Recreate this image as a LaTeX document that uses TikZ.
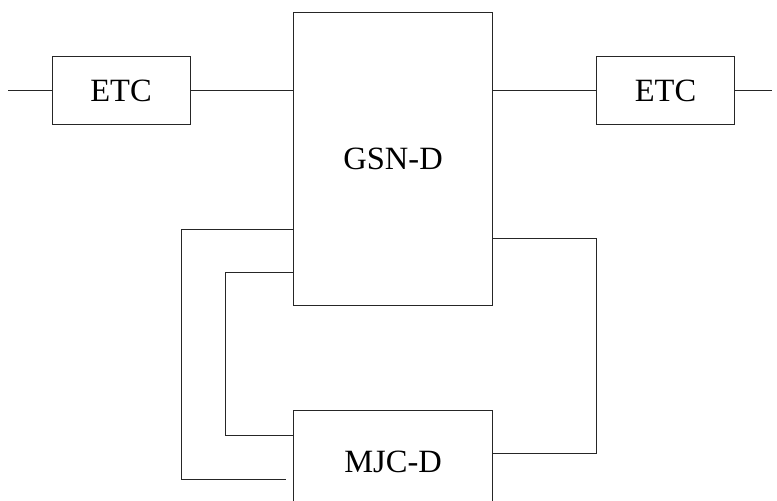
\documentclass[tikz,border=0pt]{standalone}
\usepackage{fontspec}
\setmainfont{Liberation Serif}
\begin{document}
\begin{tikzpicture}[x=1pt,y=-1pt,
  box/.style={draw=black!85, line width=1pt, inner sep=0pt, font=\fontsize{32.5}{38}\selectfont},
  wire/.style={draw=black!85, line width=1pt}]
\useasboundingbox (0,0) rectangle (777,501);
\clip (0,0) rectangle (777,501);
\node[box, minimum width=138pt, minimum height=68.5pt] (ETC1) at (121,90.5) {ETC};
\node[box, minimum width=138.4pt, minimum height=68.5pt] (ETC2) at (665.5,90.5) {ETC};
\node[box, minimum width=199.2pt, minimum height=292.3pt] (GSN) at (393.1,158.9) {GSN-D};
\node[box, minimum width=199.2pt, minimum height=104pt] (MJC) at (393.1,462.3) {MJC-D};
\coordinate (l0) at (8,90.5);
\coordinate (r0) at (772,90.5);
\draw[wire] (l0) -- (ETC1.west);
\draw[wire] (ETC1.east) -- (GSN.west |- ETC1.east);
\draw[wire] (GSN.east |- ETC2.west) -- (ETC2.west);
\draw[wire] (ETC2.east) -- (r0);
\coordinate (a1) at (181,229);
\coordinate (e1) at (286,479);
\draw[wire] (GSN.west |- a1) -- (a1) |- (e1);
\coordinate (a2) at (225,272);
\coordinate (b2) at (225,435);
\draw[wire] (GSN.west |- a2) -- (a2) -- (b2) -- (MJC.west |- b2);
\coordinate (a3) at (596,238);
\coordinate (b3) at (596,453);
\draw[wire] (GSN.east |- a3) -- (a3) -- (b3) -- (MJC.east |- b3);
\end{tikzpicture}
\end{document}
